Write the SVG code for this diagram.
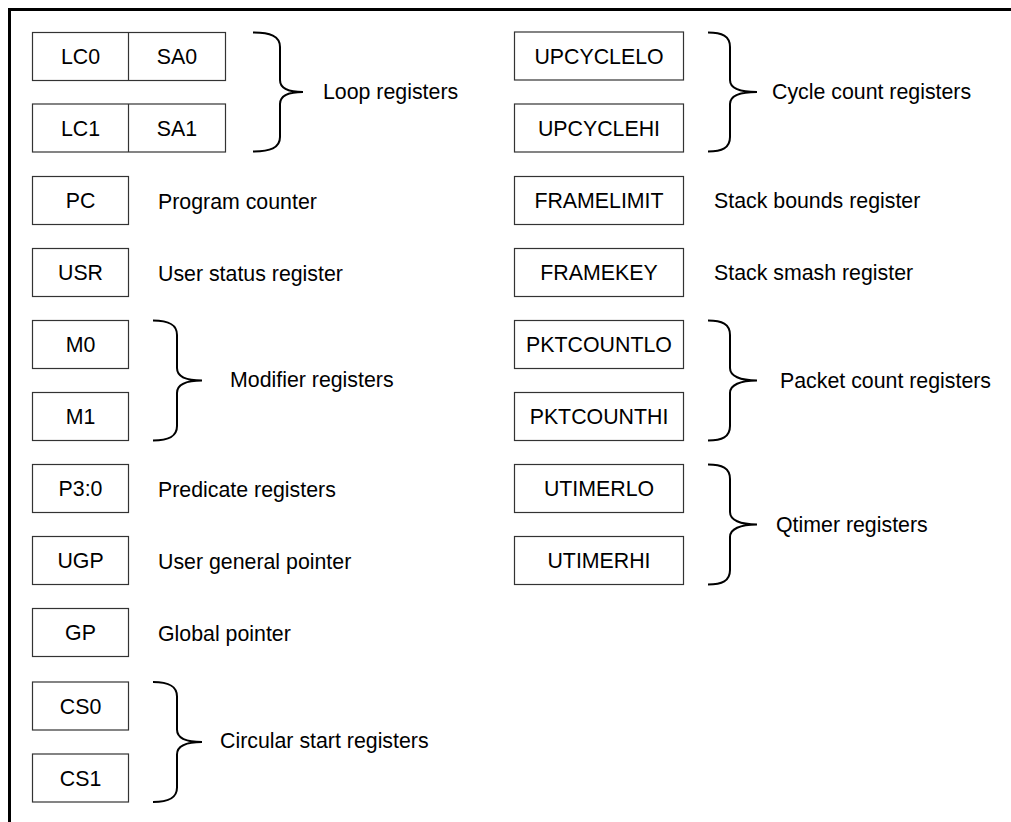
<svg xmlns="http://www.w3.org/2000/svg" width="1011" height="822" viewBox="0 0 1011 822">
<style>
.bx{fill:#fff;stroke:#333;stroke-width:1.2}
.br{fill:none;stroke:#000;stroke-width:2}
text{font-family:"Liberation Sans",Arial,sans-serif;font-size:21.33px;fill:#000}
.c{text-anchor:middle}
</style>
<rect width="1011" height="822" fill="#fff"/>
<path d="M9.5,822 L9.5,9.5 L1011,9.5" fill="none" stroke="#000" stroke-width="3"/>
<g id="loop">
<rect class="bx" x="32.5" y="32.5" width="193" height="48"/>
<line x1="128.5" y1="32.5" x2="128.5" y2="80.5" stroke="#333" stroke-width="1.2"/>
<text class="c" x="80.5" y="64">LC0</text><text class="c" x="177" y="64">SA0</text>
<rect class="bx" x="32.5" y="104" width="193" height="48"/>
<line x1="128.5" y1="104" x2="128.5" y2="152" stroke="#333" stroke-width="1.2"/>
<text class="c" x="80.5" y="135.5">LC1</text><text class="c" x="177" y="135.5">SA1</text>
<text x="323" y="99">Loop registers</text>
</g>
<g id="pc"><rect class="bx" x="32.5" y="176.5" width="96" height="48"/><text class="c" x="80.5" y="208">PC</text><text x="158" y="208.5">Program counter</text></g>
<g id="usr"><rect class="bx" x="32.5" y="248.5" width="96" height="48"/><text class="c" x="80.5" y="280">USR</text><text x="158" y="280.5">User status register</text></g>
<g id="mod">
<rect class="bx" x="32.5" y="320.5" width="96" height="48"/><text class="c" x="80.5" y="352">M0</text>
<rect class="bx" x="32.5" y="392.5" width="96" height="48"/><text class="c" x="80.5" y="424">M1</text>
<text x="230" y="387">Modifier registers</text>
</g>
<g id="p30"><rect class="bx" x="32.5" y="464.5" width="96" height="48"/><text class="c" x="80.5" y="496">P3:0</text><text x="158" y="496.5">Predicate registers</text></g>
<g id="ugp"><rect class="bx" x="32.5" y="536.5" width="96" height="48"/><text class="c" x="80.5" y="568">UGP</text><text x="158" y="568.5">User general pointer</text></g>
<g id="gp"><rect class="bx" x="32.5" y="608.5" width="96" height="48"/><text class="c" x="80.5" y="640">GP</text><text x="158" y="640.5">Global pointer</text></g>
<g id="cs">
<rect class="bx" x="32.5" y="682" width="96" height="48"/><text class="c" x="80.5" y="713.5">CS0</text>
<rect class="bx" x="32.5" y="754" width="96" height="48"/><text class="c" x="80.5" y="785.5">CS1</text>
<text x="220" y="748">Circular start registers</text>
</g>
<g id="upcycle">
<rect class="bx" x="514.5" y="32" width="169" height="48"/><text class="c" x="599" y="63.5">UPCYCLELO</text>
<rect class="bx" x="514.5" y="104" width="169" height="48"/><text class="c" x="599" y="135.5">UPCYCLEHI</text>
<text x="772" y="99">Cycle count registers</text>
</g>
<g id="framelimit"><rect class="bx" x="514.5" y="176.5" width="169" height="48"/><text class="c" x="599" y="208">FRAMELIMIT</text><text x="714" y="208">Stack bounds register</text></g>
<g id="framekey"><rect class="bx" x="514.5" y="248.5" width="169" height="48"/><text class="c" x="599" y="280">FRAMEKEY</text><text x="714" y="280">Stack smash register</text></g>
<g id="pktcount">
<rect class="bx" x="514.5" y="320.5" width="169" height="48"/><text class="c" x="599" y="352">PKTCOUNTLO</text>
<rect class="bx" x="514.5" y="392.5" width="169" height="48"/><text class="c" x="599" y="424">PKTCOUNTHI</text>
<text x="780" y="388">Packet count registers</text>
</g>
<g id="utimer">
<rect class="bx" x="514.5" y="464.5" width="169" height="48"/><text class="c" x="599" y="496">UTIMERLO</text>
<rect class="bx" x="514.5" y="536.5" width="169" height="48"/><text class="c" x="599" y="568">UTIMERHI</text>
<text x="776" y="532">Qtimer registers</text>
</g>
<g id="connectors">
<path class="br" d="M253,32.5 C270,32.5 280,36 280,47 L280,80 C280,88 288,92 303,92 C288,92 280,96 280,104 L280,137 C280,148 270,151.5 253,151.5"/>
<path class="br" d="M708,32.5 C722,32.5 730,36 730,47 L730,80 C730,88 740,92 757,92 C740,92 730,96 730,104 L730,137 C730,148 722,151.5 708,151.5"/>
<path class="br" d="M153,320.5 C168,320.5 177,324 177,335 L177,368 C177,376 186,380.5 202,380.5 C186,380.5 177,385 177,393 L177,426 C177,437 168,440.5 153,440.5"/>
<path class="br" d="M153,682 C168,682 177,685.5 177,696.5 L177,729.5 C177,737.5 186,742 202,742 C186,742 177,746.5 177,754.5 L177,787.5 C177,798.5 168,802 153,802"/>
<path class="br" d="M708,320.5 C722,320.5 730,324 730,335 L730,368 C730,376 740,380.5 757,380.5 C740,380.5 730,385 730,393 L730,426 C730,437 722,440.5 708,440.5"/>
<path class="br" d="M708,464.5 C722,464.5 730,468 730,479 L730,512 C730,520 740,524.5 757,524.5 C740,524.5 730,529 730,537 L730,570 C730,581 722,584.5 708,584.5"/>
</g>
</svg>
